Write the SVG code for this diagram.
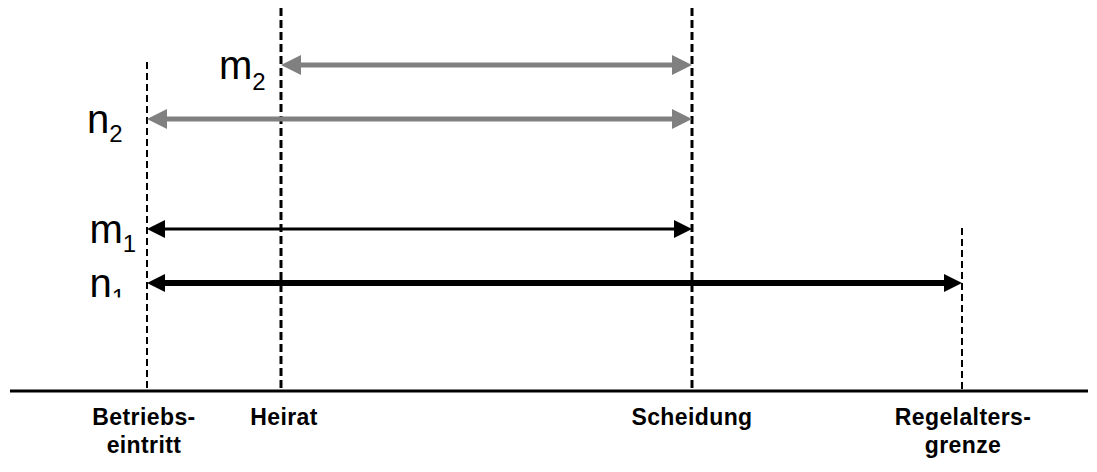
<svg xmlns="http://www.w3.org/2000/svg" width="1097" height="472" viewBox="0 0 1097 472">
<style>
.guide{stroke:#000;fill:none}
.thin{stroke-width:2;stroke-dasharray:7 4}
.thick{stroke-width:3;stroke-dasharray:8 4}
.var{font-family:"Liberation Sans",Arial,sans-serif;font-size:40px;fill:#000}
.sub{font-size:24px}
.lbl{font-family:"Liberation Sans",Arial,sans-serif;font-size:23px;font-weight:bold;fill:#000;text-anchor:middle;letter-spacing:0.4px}
</style>
<defs>
<marker id="gh" markerUnits="userSpaceOnUse" viewBox="0 0 20 20" markerWidth="20" markerHeight="20" refX="12" refY="10" orient="auto-start-reverse"><path d="M0,0 L20,10 L0,20 z" fill="#808080"/></marker>
<marker id="bh" markerUnits="userSpaceOnUse" viewBox="0 0 18 18" markerWidth="18" markerHeight="18" refX="10" refY="9" orient="auto-start-reverse"><path d="M0,0 L18,9 L0,18 z" fill="#000"/></marker>
<clipPath id="clipn1"><rect x="80" y="260" width="60" height="37.5"/></clipPath>
</defs>
<rect width="1097" height="472" fill="#fff"/>
<g id="axis">
<line x1="10" y1="391" x2="1088" y2="391" stroke="#000" stroke-width="3"/>
</g>
<g id="guides">
<line class="guide thin" x1="147" y1="62" x2="147" y2="390"/>
<line class="guide thick" x1="281" y1="8" x2="281" y2="390"/>
<line class="guide thick" x1="692" y1="8" x2="692" y2="390"/>
<line class="guide thin" x1="962" y1="228" x2="962" y2="390"/>
</g>
<g id="connectors">
<line x1="289" y1="65" x2="684" y2="65" stroke="#808080" stroke-width="5" marker-start="url(#gh)" marker-end="url(#gh)"/>
<line x1="155" y1="119" x2="684" y2="119" stroke="#808080" stroke-width="5" marker-start="url(#gh)" marker-end="url(#gh)"/>
<line x1="155" y1="229" x2="684" y2="229" stroke="#000" stroke-width="3" marker-start="url(#bh)" marker-end="url(#bh)"/>
<line x1="155" y1="283" x2="954" y2="283" stroke="#000" stroke-width="6" marker-start="url(#bh)" marker-end="url(#bh)"/>
</g>
<g id="label-m2"><text class="var" x="219" y="79">m<tspan class="sub" dy="11">2</tspan></text></g>
<g id="label-n2"><text class="var" x="87" y="133">n<tspan class="sub" dy="9">2</tspan></text></g>
<g id="label-m1"><text class="var" x="89.5" y="243">m<tspan class="sub" dy="9">1</tspan></text></g>
<g id="label-n1" clip-path="url(#clipn1)"><text class="var" x="89.5" y="297">n<tspan class="sub" dy="9">1</tspan></text></g>
<g id="node-betriebseintritt"><text class="lbl" x="144" y="425">Betriebs-</text><text class="lbl" x="144" y="453">eintritt</text></g>
<g id="node-heirat"><text class="lbl" x="284" y="425">Heirat</text></g>
<g id="node-scheidung"><text class="lbl" x="692" y="425">Scheidung</text></g>
<g id="node-regelaltersgrenze"><text class="lbl" x="963" y="425">Regelalters-</text><text class="lbl" x="963" y="453">grenze</text></g>
</svg>
